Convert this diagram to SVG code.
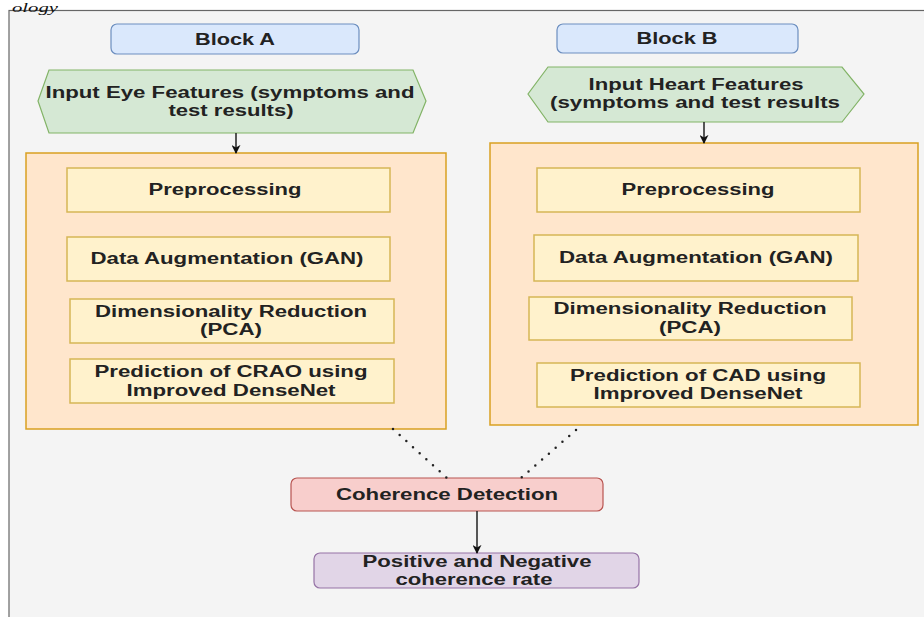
<svg xmlns="http://www.w3.org/2000/svg" width="924" height="617" viewBox="0 0 924 617">
<defs>
<style>
.t{font-family:"Liberation Sans",Arial,sans-serif;font-size:16px;font-weight:bold;fill:#222;text-anchor:middle}
.blue{fill:#dae8fc;stroke:#6c8ebf;stroke-width:1.2}
.green{fill:#d5e8d4;stroke:#82b366;stroke-width:1.2}
.cont{fill:#ffe6cc;stroke:#d9a020;stroke-width:1.5}
.step{fill:#fff2cc;stroke:#d6b656;stroke-width:1.5}
.red{fill:#f8cecc;stroke:#b85450;stroke-width:1.2}
.purple{fill:#e1d5e7;stroke:#9673a6;stroke-width:1.2}
.arrow{stroke:#222;stroke-width:1.5;fill:none}
.dot{stroke:#222;stroke-width:2.5;stroke-linecap:round;stroke-dasharray:0 9;fill:none}
</style>
<marker id="ah" viewBox="0 0 10 10" refX="9" refY="5" markerWidth="9" markerHeight="9" markerUnits="userSpaceOnUse" orient="auto">
<path d="M0,0 L10,5 L0,10 L3,5 Z" fill="#111"/>
</marker>
</defs>
<rect x="0" y="0" width="924" height="617" fill="#ffffff"/>
<rect x="9" y="10.5" width="940" height="640" fill="#f4f4f4" stroke="#666" stroke-width="1.2"/>
<text x="12" y="12" font-family="'Liberation Serif',serif" font-style="italic" font-size="12" fill="#111" textLength="46" lengthAdjust="spacingAndGlyphs">ology</text>

<g id="blockA">
<rect class="blue" x="111" y="24" width="248" height="30" rx="6"/>
<text class="t" x="235" y="45" textLength="80" lengthAdjust="spacingAndGlyphs">Block A</text>
</g>
<g id="blockB">
<rect class="blue" x="557" y="24" width="241" height="29" rx="6"/>
<text class="t" x="677" y="44" textLength="81" lengthAdjust="spacingAndGlyphs">Block B</text>
</g>

<g id="inputA">
<polygon class="green" points="49,70 413,70 426,101 413,133 49,133 38,101"/>
<text class="t" x="230" y="98" textLength="369" lengthAdjust="spacingAndGlyphs">Input Eye Features (symptoms and</text>
<text class="t" x="231" y="116" textLength="125" lengthAdjust="spacingAndGlyphs">test results)</text>
</g>
<g id="inputB">
<polygon class="green" points="548,67 842,67 864,94 842,122 548,122 528,94"/>
<text class="t" x="696" y="90" textLength="215" lengthAdjust="spacingAndGlyphs">Input Heart Features</text>
<text class="t" x="695" y="108" textLength="290" lengthAdjust="spacingAndGlyphs">(symptoms and test results</text>
</g>

<g id="containerA">
<rect class="cont" x="26" y="153" width="420" height="276"/>
</g>
<g id="containerB">
<rect class="cont" x="490" y="143" width="428" height="282"/>
</g>

<g id="preA">
<rect class="step" x="67" y="168" width="323" height="44"/>
<text class="t" x="225" y="195" textLength="153" lengthAdjust="spacingAndGlyphs">Preprocessing</text>
</g>
<g id="augA">
<rect class="step" x="67" y="237" width="323" height="44"/>
<text class="t" x="227" y="264" textLength="273" lengthAdjust="spacingAndGlyphs">Data Augmentation (GAN)</text>
</g>
<g id="dimA">
<rect class="step" x="70" y="299" width="324" height="44"/>
<text class="t" x="231" y="317" textLength="272" lengthAdjust="spacingAndGlyphs">Dimensionality Reduction</text>
<text class="t" x="231" y="335" textLength="62" lengthAdjust="spacingAndGlyphs">(PCA)</text>
</g>
<g id="predA">
<rect class="step" x="70" y="359" width="324" height="44"/>
<text class="t" x="231" y="377" textLength="273" lengthAdjust="spacingAndGlyphs">Prediction of CRAO using</text>
<text class="t" x="231" y="396" textLength="209" lengthAdjust="spacingAndGlyphs">Improved DenseNet</text>
</g>

<g id="preB">
<rect class="step" x="537" y="168" width="323" height="44"/>
<text class="t" x="698" y="195" textLength="153" lengthAdjust="spacingAndGlyphs">Preprocessing</text>
</g>
<g id="augB">
<rect class="step" x="534" y="235" width="324" height="46"/>
<text class="t" x="696" y="263" textLength="274" lengthAdjust="spacingAndGlyphs">Data Augmentation (GAN)</text>
</g>
<g id="dimB">
<rect class="step" x="529" y="297" width="323" height="43"/>
<text class="t" x="690" y="314" textLength="273" lengthAdjust="spacingAndGlyphs">Dimensionality Reduction</text>
<text class="t" x="690" y="333" textLength="62" lengthAdjust="spacingAndGlyphs">(PCA)</text>
</g>
<g id="predB">
<rect class="step" x="537" y="363" width="323" height="44"/>
<text class="t" x="698" y="381" textLength="256" lengthAdjust="spacingAndGlyphs">Prediction of CAD using</text>
<text class="t" x="698" y="399" textLength="209" lengthAdjust="spacingAndGlyphs">Improved DenseNet</text>
</g>

<g id="coherence">
<rect class="red" x="291" y="478" width="312" height="33" rx="6"/>
<text class="t" x="447" y="500" textLength="222" lengthAdjust="spacingAndGlyphs">Coherence Detection</text>
</g>
<g id="rate">
<rect class="purple" x="314" y="553" width="325" height="35" rx="6"/>
<text class="t" x="477" y="567" textLength="229" lengthAdjust="spacingAndGlyphs">Positive and Negative</text>
<text class="t" x="474" y="585" textLength="157" lengthAdjust="spacingAndGlyphs">coherence rate</text>
</g>

<g id="connectors">
<line class="arrow" x1="236" y1="133" x2="236" y2="153" marker-end="url(#ah)"/>
<line class="arrow" x1="704" y1="122" x2="704" y2="143" marker-end="url(#ah)"/>
<line class="dot" x1="393" y1="429" x2="447" y2="478"/>
<line class="dot" x1="576" y1="430" x2="521" y2="478"/>
<line class="arrow" x1="477" y1="511" x2="477" y2="553" marker-end="url(#ah)"/>
</g>
</svg>
